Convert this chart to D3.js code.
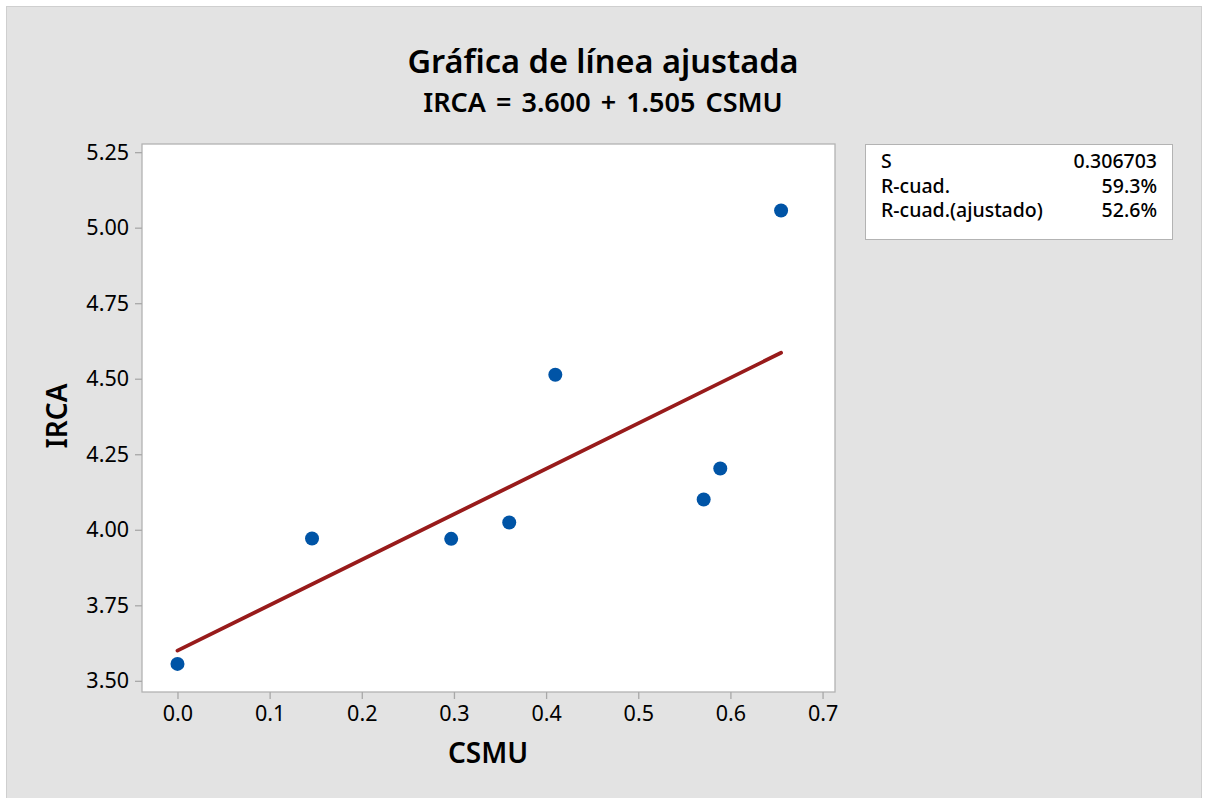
<!DOCTYPE html>
<html>
<head>
<meta charset="utf-8">
<script src="https://cdn.jsdelivr.net/npm/d3@7"></script>
<style>
  body { margin: 0; background: #fff; }
  text { font-family: "Noto Sans", "Open Sans", sans-serif; fill: #000; }
</style>
</head>
<body>
<div id="chart"></div>
<script>
// data
const csmu = [0.000, 0.146, 0.297, 0.360, 0.410, 0.571, 0.589, 0.655];
const irca = [3.556, 3.971, 3.970, 4.024, 4.513, 4.100, 4.203, 5.057];
const intercept = 3.600, slope = 1.505;
const xTicks = [0.0, 0.1, 0.2, 0.3, 0.4, 0.5, 0.6, 0.7];
const yTicks = [3.50, 3.75, 4.00, 4.25, 4.50, 4.75, 5.00, 5.25];
const statLabels = ["S", "R-cuad.", "R-cuad.(ajustado)"];
const statValues = ["0.306703", "59.3%", "52.6%"];

const width = 1209, height = 798,
      margin = ({ top: 144, right: 374, bottom: 106, left: 142 });

const data = csmu.map((d, i) => ({ x: d, y: irca[i] }));

let svg = d3.select("#chart")
    .append("svg")
    .attr("width", width)
    .attr("height", height);

// gray frame
svg.append("rect")
    .attr("x", 6.5).attr("y", 6.5)
    .attr("width", 1195).attr("height", 800)
    .attr("fill", "#e3e3e3")
    .attr("stroke", "#cfcfcf");

let x = d3.scaleLinear()
    .domain([-0.0385, 0.7135])
    .range([margin.left, width - margin.right]);

let y = d3.scaleLinear()
    .domain([3.463, 5.277])
    .range([height - margin.bottom, margin.top]);

// plot area
svg.append("rect")
    .attr("x", margin.left)
    .attr("y", margin.top)
    .attr("width", width - margin.right - margin.left)
    .attr("height", height - margin.bottom - margin.top)
    .attr("fill", "white")
    .attr("stroke", "#b3b3b3")
    .attr("stroke-width", 1.3);

let xAxis = svg.append("g")
    .attr("transform", `translate(0,${height - margin.bottom})`)
    .call(d3.axisBottom(x).tickValues(xTicks).tickFormat(d3.format(".1f")).tickSize(7).tickPadding(7));

let yAxis = svg.append("g")
    .attr("transform", `translate(${margin.left},0)`)
    .call(d3.axisLeft(y).tickValues(yTicks).tickFormat(d3.format(".2f")).tickSize(7).tickPadding(6));

[xAxis, yAxis].forEach(g => {
    g.select(".domain").remove();
    g.selectAll(".tick line").attr("stroke", "#a8a8a8").attr("stroke-width", 1.3);
    g.selectAll(".tick text")
        .style("font-family", "'Noto Sans', 'Open Sans', sans-serif")
        .style("font-size", "21.5px")
        .attr("fill", "#000");
});

// fitted line
let xMin = d3.min(csmu), xMax = d3.max(csmu);
svg.append("line")
    .attr("x1", x(xMin)).attr("y1", y(intercept + slope * xMin))
    .attr("x2", x(xMax)).attr("y2", y(intercept + slope * xMax))
    .attr("stroke", "#981b1b")
    .attr("stroke-width", 3.8)
    .attr("stroke-linecap", "round");

// points
svg.selectAll(".pt")
    .data(data)
    .join("circle")
    .attr("class", "pt")
    .attr("cx", d => x(d.x))
    .attr("cy", d => y(d.y))
    .attr("r", 7)
    .attr("fill", "#0054a6");

// titles
svg.append("text")
    .text("Gráfica de línea ajustada")
    .attr("x", 603).attr("y", 73)
    .attr("text-anchor", "middle")
    .style("font-size", "32.5px")
    .style("font-weight", 600);

svg.append("text")
    .text("IRCA = 3.600 + 1.505 CSMU")
    .attr("x", 603).attr("y", 112)
    .attr("text-anchor", "middle")
    .style("font-size", "27px")
    .style("word-spacing", "3px")
    .style("font-weight", 600);

svg.append("text")
    .text("CSMU")
    .attr("x", 488).attr("y", 763)
    .attr("text-anchor", "middle")
    .style("font-size", "28px")
    .style("font-weight", 600);

svg.append("text")
    .text("IRCA")
    .attr("transform", "translate(67,416) rotate(-90)")
    .attr("text-anchor", "middle")
    .style("font-size", "28px")
    .style("font-weight", 600);

// stats box
svg.append("rect")
    .attr("x", 865.5).attr("y", 144.5)
    .attr("width", 307).attr("height", 95)
    .attr("fill", "white")
    .attr("stroke", "#b3b3b3");

let rows = svg.selectAll(".stat")
    .data(statLabels)
    .join("g")
    .attr("class", "stat")
    .attr("transform", (d, i) => `translate(0,${168 + i * 24.5})`);

rows.append("text")
    .text(d => d)
    .attr("x", 881)
    .style("font-size", "19.5px")
    .style("font-weight", 500);

rows.append("text")
    .text((d, i) => statValues[i])
    .attr("x", 1157)
    .attr("text-anchor", "end")
    .style("font-size", "19.5px")
    .style("font-weight", 500);
</script>
</body>
</html>
